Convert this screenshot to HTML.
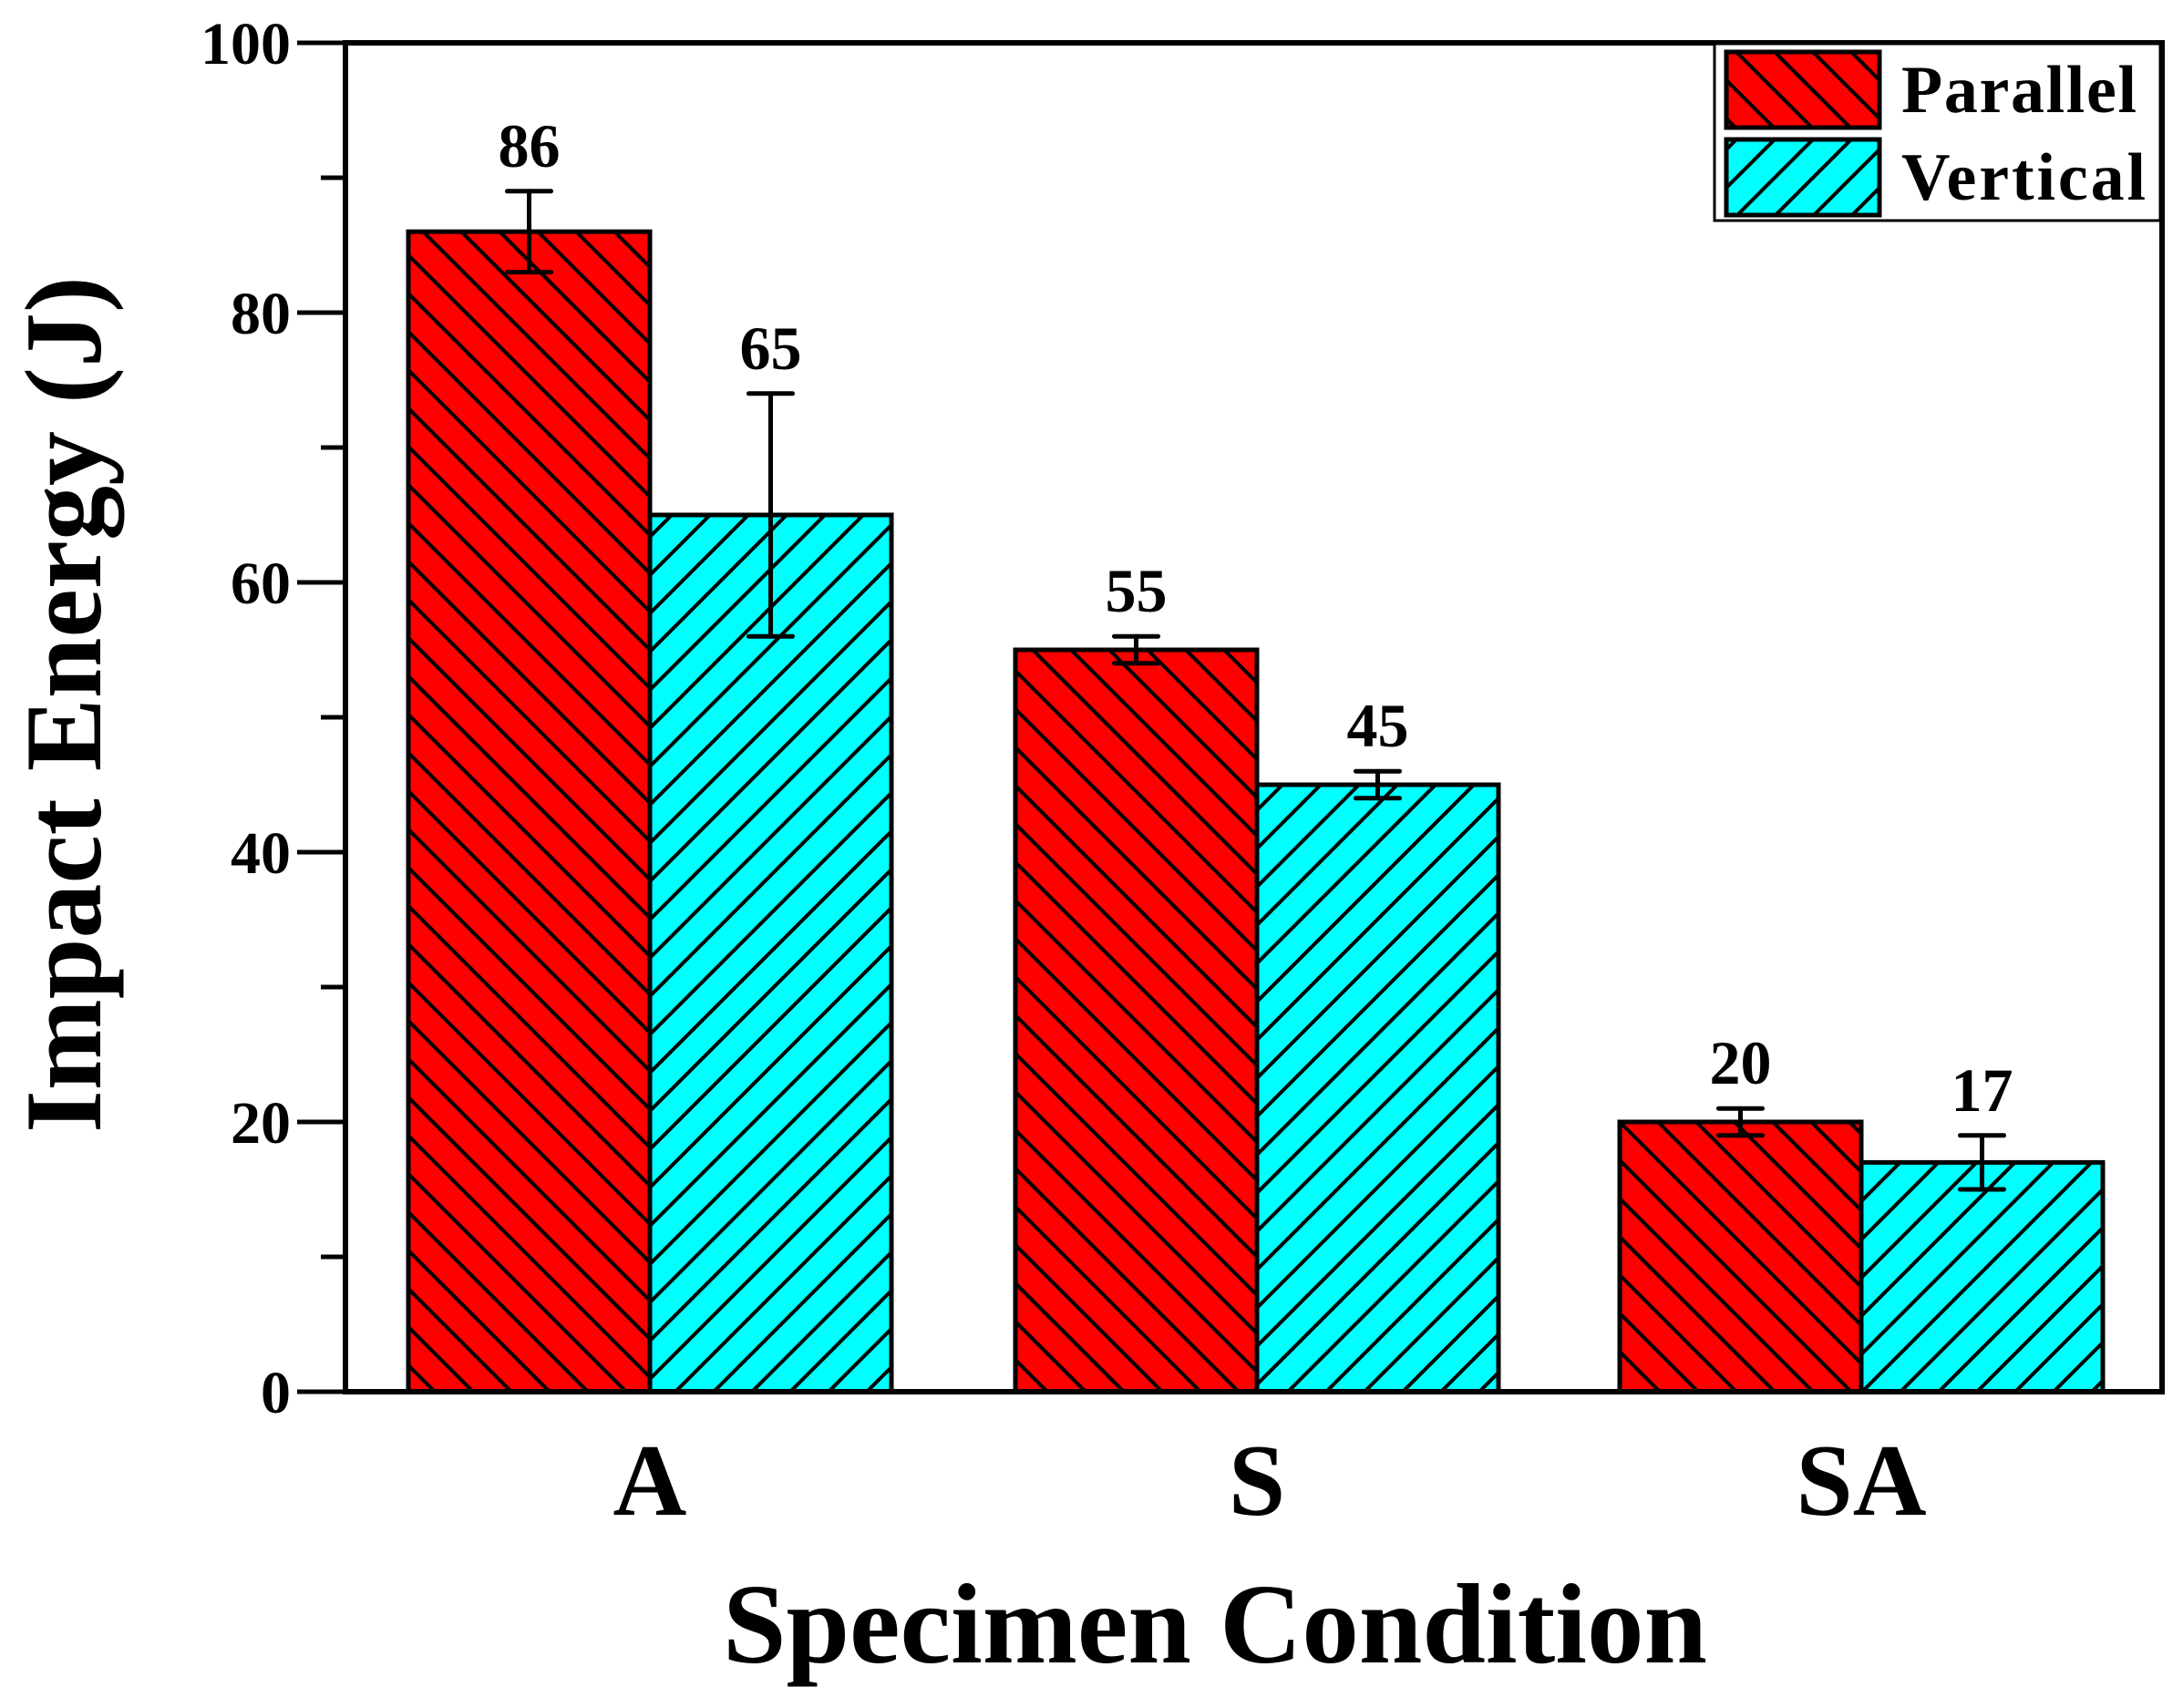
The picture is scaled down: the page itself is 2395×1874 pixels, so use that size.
<!DOCTYPE html>
<html><head><meta charset="utf-8"><style>
html,body{margin:0;padding:0;background:#fff;}
svg{display:block;font-family:"Liberation Serif",serif;font-weight:bold;}
</style></head><body>
<svg id="chart" width="2395" height="1874" viewBox="0 0 2395 1874">
<defs>
<pattern id="hatchR" patternUnits="userSpaceOnUse" width="42" height="42">
<rect width="42" height="42" fill="#ff0000"/>
<path d="M-21,-21 L63,63 M-21,21 L21,63 M21,-21 L63,21" stroke="#000" stroke-width="4"/>
</pattern>
<pattern id="hatchC" patternUnits="userSpaceOnUse" width="42" height="42">
<rect width="42" height="42" fill="#00ffff"/>
<path d="M-21,63 L63,-21 M-21,21 L21,-21 M21,63 L63,21" stroke="#000" stroke-width="4"/>
</pattern>
</defs>
<g id="plot"></g>
</svg>
<script>
const categories = ["A", "S", "SA"];
const parallelValues = [86, 55, 20];
const verticalValues = [65, 45, 17];
const parallelErrLow = [83, 54, 19];
const parallelErrHigh = [89, 56, 21];
const verticalErrLow = [56, 44, 15];
const verticalErrHigh = [74, 46, 19];
const yTicks = [0, 20, 40, 60, 80, 100];
const yMinorTicks = [10, 30, 50, 70, 90];

const NS = "http://www.w3.org/2000/svg";
const g = document.getElementById("plot");
const L = 379, R = 2372, T = 47, B = 1527;
const yMin = 0, yMax = 100;
function y(v){ return B - (v - yMin) / (yMax - yMin) * (B - T); }
const catCenters = [713, 1379, 2042];
function xc(i){ return catCenters[i]; }
const barW = 265;
function mk(tag, attrs, parent){
  const e = document.createElementNS(NS, tag);
  for (const k in attrs) e.setAttribute(k, attrs[k]);
  (parent || g).appendChild(e);
  return e;
}

categories.forEach((c, i) => {
  const series = [
    {v: parallelValues[i], lo: parallelErrLow[i], hi: parallelErrHigh[i], fill: "url(#hatchR)", x0: xc(i) - barW, name: "parallel"},
    {v: verticalValues[i], lo: verticalErrLow[i], hi: verticalErrHigh[i], fill: "url(#hatchC)", x0: xc(i), name: "vertical"}
  ];
  series.forEach(s => {
    const r = mk("rect", {x: s.x0, y: y(s.v), width: barW, height: y(0) - y(s.v), fill: s.fill, stroke: "#000", "stroke-width": 5});
    
    
    const cx = s.x0 + barW / 2;
    const eg = mk("g", {stroke: "#000", "stroke-width": 5, "stroke-linecap": "round"});
    
    
    mk("line", {x1: cx, x2: cx, y1: y(s.lo), y2: y(s.hi)}, eg);
    mk("line", {x1: cx - 24, x2: cx + 24, y1: y(s.lo), y2: y(s.lo)}, eg);
    mk("line", {x1: cx - 24, x2: cx + 24, y1: y(s.hi), y2: y(s.hi)}, eg);
    const t = mk("text", {x: cx, y: y(s.hi) - 27, "text-anchor": "middle", "font-size": 68});
    t.textContent = s.v;
    
    
  });
  const xl = mk("text", {x: xc(i), y: 1662, "text-anchor": "middle", "font-size": 112});
  xl.textContent = c;
  
  
});

const frame = mk("rect", {x: L, y: T, width: R - L, height: B - T, fill: "none", stroke: "#000", "stroke-width": 6});



yTicks.forEach(v => {
  const tl = mk("line", {x1: L - 53, x2: L, y1: y(v), y2: y(v), stroke: "#000", "stroke-width": 5});
  
  
  const t = mk("text", {x: L - 60, y: y(v) + 23, "text-anchor": "end", "font-size": 66});
  t.textContent = v;
  
  
});
yMinorTicks.forEach(v => {
  const tl = mk("line", {x1: L - 27, x2: L, y1: y(v), y2: y(v), stroke: "#000", "stroke-width": 5});
  
  
});
</script>
<script>
(function(){
  const NS = "http://www.w3.org/2000/svg";
  const svg = document.getElementById("chart");
  function mk(tag, attrs, parent){
    const e = document.createElementNS(NS, tag);
    for (const k in attrs) e.setAttribute(k, attrs[k]);
    (parent || svg).appendChild(e);
    return e;
  }
  const yt = mk("text", {x: 0, y: 0, "text-anchor": "middle", "font-size": 120, transform: "translate(110,773) rotate(-90)"});
  yt.textContent = "Impact Energy (J)";
  
  
  const xt = mk("text", {x: 1333, y: 1824, "text-anchor": "middle", "font-size": 125});
  xt.textContent = "Specimen Condition";
  
  

  const lg = mk("g", {});
  
  
  mk("rect", {x: 1881, y: 48, width: 489, height: 194, fill: "#fff", stroke: "#000", "stroke-width": 3}, lg);
  const e1 = mk("rect", {x: 1894, y: 57, width: 168, height: 83, fill: "url(#hatchR)", stroke: "#000", "stroke-width": 5}, lg);
  
  
  const e2 = mk("rect", {x: 1894, y: 153, width: 168, height: 83, fill: "url(#hatchC)", stroke: "#000", "stroke-width": 5}, lg);
  
  
  const t1 = mk("text", {x: 2086, y: 123, "font-size": 74, textLength: 258}, lg);
  t1.textContent = "Parallel";
  
  
  const t2 = mk("text", {x: 2086, y: 219, "font-size": 74, textLength: 268}, lg);
  t2.textContent = "Vertical";
  
  
})();
</script>
</body></html>
